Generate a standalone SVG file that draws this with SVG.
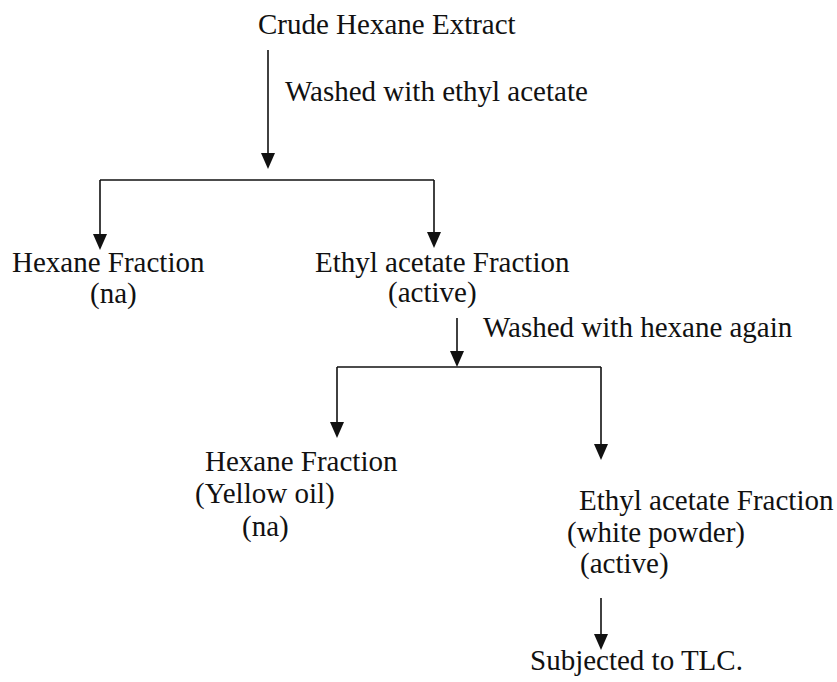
<svg xmlns="http://www.w3.org/2000/svg" width="837" height="682" viewBox="0 0 837 682">
<style>
text{font-family:"Liberation Serif","Times New Roman",serif;font-size:29px;fill:#111}
.c{fill:none;stroke:#111;stroke-width:1.6}
</style>
<defs>
<marker id="ah" viewBox="0 0 16 14" refX="12" refY="7" markerWidth="16" markerHeight="14" markerUnits="userSpaceOnUse" orient="auto">
<path d="M0,0 L16,7 L0,14 z" fill="#111"/>
</marker>
</defs>
<rect width="837" height="682" fill="#fff"/>
<g id="connectors">
<path class="c" d="M268,50 V165" marker-end="url(#ah)"/>
<path class="c" d="M100,180 H434"/>
<path class="c" d="M100,180 V246" marker-end="url(#ah)"/>
<path class="c" d="M434,180 V244" marker-end="url(#ah)"/>
<path class="c" d="M457,318 V363" marker-end="url(#ah)"/>
<path class="c" d="M337,367 H601"/>
<path class="c" d="M337,367 V434" marker-end="url(#ah)"/>
<path class="c" d="M601,367 V456" marker-end="url(#ah)"/>
<path class="c" d="M601,598 V646" marker-end="url(#ah)"/>
</g>
<g id="crude"><text x="258" y="34">Crude Hexane Extract</text></g>
<g id="wash1"><text x="285" y="101">Washed with ethyl acetate</text></g>
<g id="hexane1"><text x="12" y="272">Hexane Fraction</text><text x="90" y="303">(na)</text></g>
<g id="ethyl1"><text x="315" y="272">Ethyl acetate Fraction</text><text x="388" y="302">(active)</text></g>
<g id="wash2"><text x="483" y="337">Washed with hexane again</text></g>
<g id="hexane2"><text x="205" y="471">Hexane Fraction</text><text x="195" y="503">(Yellow oil)</text><text x="242" y="536">(na)</text></g>
<g id="ethyl2"><text x="579" y="510">Ethyl acetate Fraction</text><text x="567" y="542">(white powder)</text><text x="580" y="573">(active)</text></g>
<g id="tlc"><text x="530" y="670">Subjected to TLC.</text></g>
</svg>
